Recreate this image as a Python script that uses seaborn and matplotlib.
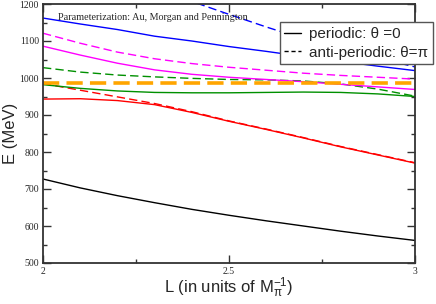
import matplotlib
matplotlib.use("Agg")
import matplotlib.pyplot as plt
import numpy as np
import pandas as pd
import seaborn as sns
from matplotlib.lines import Line2D
from matplotlib.ticker import MultipleLocator


# values (L in units of 1/M_pi, E in MeV)
L_GRID = [2.0, 2.1, 2.2, 2.3, 2.4, 2.5, 2.6, 2.7, 2.8, 2.9, 3.0]

black_solid = [727, 703, 682, 663, 645, 629, 614, 600, 586, 573, 561]
red_solid = [943, 944, 939, 928, 907, 883, 861, 838, 814, 792, 770]
red_dashed = [985, 967, 949, 931, 909, 884, 862, 839, 815, 793, 771]
green_solid = [982, 972, 965, 961, 960, 960, 961, 962, 961, 957, 950]
green_dashed = [1028, 1016, 1008, 1003, 999, 996, 995, 992, 984, 970, 951]
magenta_solid = [1086, 1062, 1040, 1022, 1010, 1002, 996, 990, 983, 976, 969]
magenta_dashed = [1121, 1094, 1070, 1052, 1039, 1029, 1021, 1013, 1007, 1002, 997]
blue_solid = [1162, 1146, 1131, 1113, 1100, 1085, 1072, 1058, 1045, 1032, 1020]

L_BLUE_DASHED = [2.38, 2.4, 2.5, 2.6, 2.7, 2.8, 2.9, 3.0]
blue_dashed = [1214, 1207, 1172, 1138, 1106, 1079, 1054, 1030]

L_THRESHOLD = [2.0, 3.0]
kk_threshold = [987, 987]

x_ticks = [2, 2.5, 3]
x_tick_labels = ["2", "2.5", "3"]
y_ticks = [500, 600, 700, 800, 900, 1000, 1100, 1200]

SOLID = "-"
DASHED = (0, (6, 3))

curves = [
    (L_GRID, black_solid, "black", SOLID),
    (L_GRID, red_solid, "#ff0000", SOLID),
    (L_GRID, red_dashed, "#ff0000", DASHED),
    (L_GRID, green_solid, "#009000", SOLID),
    (L_GRID, green_dashed, "#009000", DASHED),
    (L_GRID, magenta_solid, "#ff00ff", SOLID),
    (L_GRID, magenta_dashed, "#ff00ff", DASHED),
    (L_GRID, blue_solid, "#0000ff", SOLID),
    (L_BLUE_DASHED, blue_dashed, "#0000ff", DASHED),
]

sns.set_style("ticks")
plt.rcParams["font.family"] = ["Liberation Sans", "DejaVu Sans"]
plt.rcParams["mathtext.fontset"] = "custom"
plt.rcParams["mathtext.rm"] = "Liberation Sans"
plt.rcParams["mathtext.it"] = "Liberation Sans"

fig = plt.figure(figsize=(4.36, 3.04), dpi=100)
ax = fig.add_axes([43 / 436, 1 - 263 / 304, (415 - 43) / 436, (263 - 4) / 304])

for xs, ys, color, ls in curves:
    df = pd.DataFrame({"L": xs, "E": ys})
    sns.lineplot(data=df, x="L", y="E", ax=ax, color=color, linestyle=ls, linewidth=1.0)

thr = pd.DataFrame({"L": L_THRESHOLD, "E": kk_threshold})
sns.lineplot(data=thr, x="L", y="E", ax=ax, color="#ffa500", linestyle=(0, (4.5, 2)), linewidth=2.6)

ax.set_xlim(2, 3)
ax.set_ylim(500, 1200)
ax.set_xticks(x_ticks)
ax.set_xticklabels(x_tick_labels)
ax.set_yticks(y_ticks)
ax.xaxis.set_minor_locator(MultipleLocator(0.25))
ax.yaxis.set_minor_locator(MultipleLocator(50))
ax.tick_params(which="both", direction="in", top=True, right=True, color="#333333", width=1)
ax.tick_params(which="major", length=6, labelsize=7, pad=3)
ax.tick_params(which="minor", length=3)
for lab in ax.get_xticklabels() + ax.get_yticklabels():
    lab.set_family("Liberation Serif")
for sp in ax.spines.values():
    sp.set_color("#333333")
    sp.set_linewidth(1.3)

ax.set_xlabel(r"L (in units of $\mathrm{M_{\pi}^{-1}}$)", fontsize=12)
ax.set_ylabel("E (MeV)", fontsize=12)
ax.xaxis.set_label_coords(0.5, -0.05)
ax.yaxis.set_label_coords(-0.068, 0.5)

ax.text(2.04, 1163, "Parameterization: Au, Morgan and Pennington",
        family="Liberation Serif", fontsize=7.3, va="center", ha="left")

handles = [
    Line2D([], [], color="black", linestyle=SOLID, linewidth=1.0),
    Line2D([], [], color="black", linestyle=(0, (3, 2)), linewidth=1.0),
]
leg = fig.legend(handles, ["periodic: θ =0", "anti-periodic: θ=π"],
                 loc="upper right", bbox_to_anchor=(0.992, 0.926),
                 fontsize=11, frameon=True, fancybox=False, framealpha=1,
                 edgecolor="#555555", handlelength=1.1, handletextpad=0.5,
                 borderpad=0.3, labelspacing=0.3, borderaxespad=0)
leg.get_frame().set_linewidth(1.0)

fig.savefig("out.png", dpi=100)
